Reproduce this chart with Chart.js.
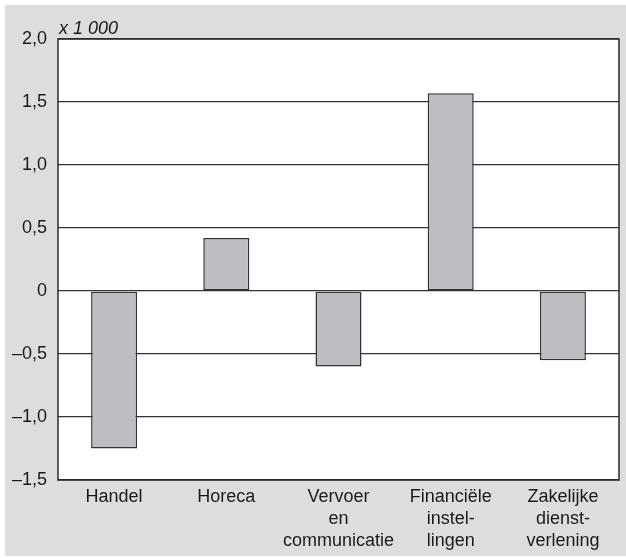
<!DOCTYPE html>
<html>
<head>
<meta charset="utf-8">
<script src="https://cdn.jsdelivr.net/npm/chart.js@4"></script>
<style>
html,body{margin:0;padding:0;background:#fff;}
#wrap{width:626px;height:558px;position:relative;}
</style>
</head>
<body>
<div id="wrap"><canvas id="c" width="626" height="558"></canvas></div>
<script>
const categories = [["Handel"],["Horeca"],["Vervoer","en","communicatie"],["Financiële","instel-","lingen"],["Zakelijke","dienst-","verlening"]];
const values = [-1.25, 0.42, -0.6, 1.57, -0.55];
const yTickValues = [-1.5, -1.0, -0.5, 0, 0.5, 1.0, 1.5, 2.0];
const yTickLabels = ["–1,5", "–1,0", "–0,5", "0", "0,5", "1,0", "1,5", "2,0"];
const unitLabel = "x 1 000";

const FONT = "'Liberation Sans', Arial, Helvetica, sans-serif";

const framePlugin = {
  id: 'frame',
  beforeDraw(chart) {
    const ctx = chart.ctx, a = chart.chartArea;
    ctx.save();
    ctx.fillStyle = '#dcdddf';
    ctx.fillRect(5, 5, 621, 551);
    ctx.fillStyle = '#ffffff';
    ctx.fillRect(a.left, a.top, a.right - a.left, a.bottom - a.top);
    ctx.restore();
  },
  afterDraw(chart) {
    const ctx = chart.ctx, a = chart.chartArea;
    ctx.save();
    ctx.strokeStyle = '#2a2a2a';
    ctx.lineWidth = 1.5;
    ctx.strokeRect(a.left, a.top, a.right - a.left, a.bottom - a.top);
    ctx.fillStyle = '#1a1a1a';
    ctx.font = 'italic 18px ' + FONT;
    ctx.textAlign = 'left';
    ctx.textBaseline = 'alphabetic';
    ctx.fillText(unitLabel, a.left + 1, a.top - 5);
    ctx.restore();
  }
};

new Chart(document.getElementById('c'), {
  type: 'bar',
  data: {
    labels: categories,
    datasets: [{
      data: values,
      backgroundColor: '#bdbec2',
      borderColor: '#333333',
      borderWidth: 1.5,
      borderSkipped: false,
      categoryPercentage: 1,
      barPercentage: 0.41
    }]
  },
  options: {
    responsive: false,
    animation: false,
    devicePixelRatio: 1,
    layout: { padding: { left: 5, right: 7, top: 39, bottom: 0 } },
    plugins: { legend: { display: false }, tooltip: { enabled: false } },
    scales: {
      x: {
        grid: { display: false, drawTicks: false },
        border: { display: false },
        ticks: {
          color: '#1a1a1a',
          font: { family: FONT, size: 18, lineHeight: 1.22 },
          padding: 6,
          maxRotation: 0,
          autoSkip: false
        },
        afterFit(s) { s.height = 78; }
      },
      y: {
        min: -1.5,
        max: 2.0,
        afterBuildTicks(s) { s.ticks = yTickValues.map(v => ({ value: v })); },
        grid: { color: '#333333', lineWidth: 1.3, drawTicks: false },
        border: { display: false },
        ticks: {
          color: '#1a1a1a',
          font: { family: FONT, size: 18 },
          padding: 11,
          callback(v) {
            const i = yTickValues.findIndex(t => Math.abs(t - v) < 1e-9);
            return i >= 0 ? yTickLabels[i] : '';
          }
        },
        afterFit(s) { s.width = 53; }
      }
    }
  },
  plugins: [framePlugin]
});
</script>
</body>
</html>
